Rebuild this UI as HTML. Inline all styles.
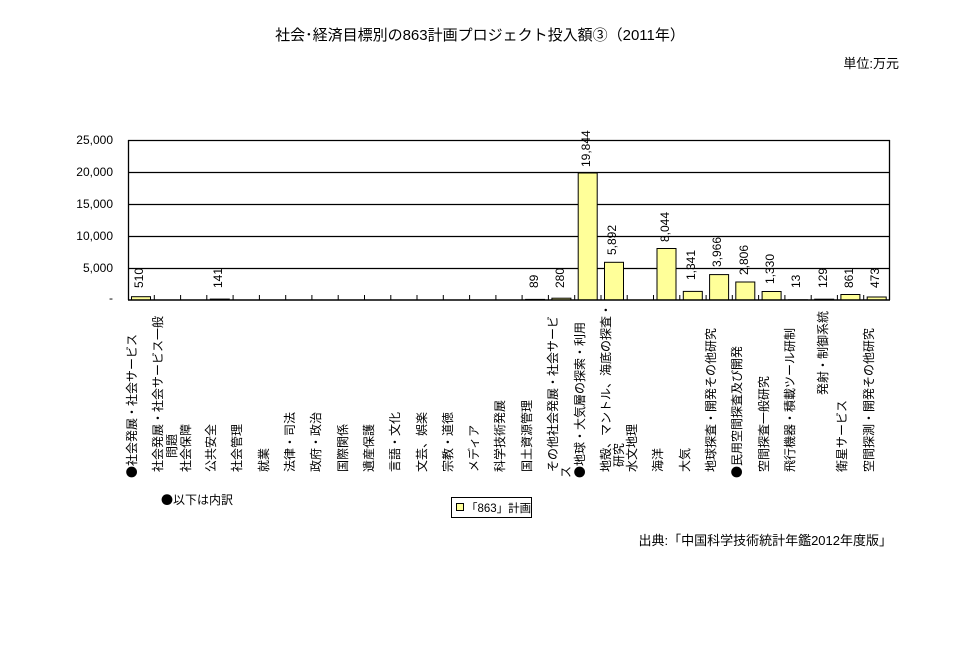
<!DOCTYPE html>
<html><head><meta charset="utf-8"><style>
body{margin:0;background:#fff;}
#c{position:relative;width:960px;height:650px;overflow:hidden;font-family:"Liberation Sans","Noto Sans CJK JP",sans-serif;color:#000;}
.t{position:absolute;white-space:nowrap;}
.r{position:absolute;white-space:nowrap;transform:rotate(-90deg);transform-origin:0 0;font-size:12px;line-height:12px;height:12px;}
.yl{position:absolute;right:847px;font-size:12px;line-height:12px;text-align:right;}
.b{font-family:"Noto Sans CJK JP",sans-serif;}
</style></head><body><div id="c">
<div class="t" style="left:0;width:960px;text-align:center;top:24px;font-size:15px;">社会･経済目標別の863計画プロジェクト投入額③（2011年）</div>
<div class="t" style="right:61px;top:53px;font-size:13px;">単位:万元</div>

<svg style="position:absolute;left:0;top:0" width="960" height="650">
<g stroke="#000" stroke-width="1.3" fill="none">
<line x1="128" y1="140.5" x2="890" y2="140.5"/>
<line x1="128" y1="172.5" x2="890" y2="172.5"/>
<line x1="128" y1="204.5" x2="890" y2="204.5"/>
<line x1="128" y1="236.5" x2="890" y2="236.5"/>
<line x1="128" y1="268.5" x2="890" y2="268.5"/>
<line x1="128.5" y1="140" x2="128.5" y2="300"/>
<line x1="889.5" y1="140" x2="889.5" y2="300"/>
</g>
<g fill="#ffff99" stroke="#000" stroke-width="1">
<rect x="131.5" y="296.7" width="19" height="3.3"/>
<rect x="210.3" y="299.1" width="19" height="0.9"/>
<rect x="525.6" y="299.4" width="19" height="0.6"/>
<rect x="551.9" y="298.2" width="19" height="1.8"/>
<rect x="578.2" y="173.0" width="19" height="127"/>
<rect x="604.5" y="262.3" width="19" height="37.7"/>
<rect x="657.0" y="248.5" width="19" height="51.5"/>
<rect x="683.3" y="291.4" width="19" height="8.6"/>
<rect x="709.6" y="274.6" width="19" height="25.4"/>
<rect x="735.8" y="282.0" width="19" height="18"/>
<rect x="762.1" y="291.5" width="19" height="8.5"/>
<rect x="788.4" y="299.8" width="19" height="0.2"/>
<rect x="814.7" y="299.2" width="19" height="0.8"/>
<rect x="840.9" y="294.5" width="19" height="5.5"/>
<rect x="867.2" y="297.0" width="19" height="3"/>
</g>
<g stroke="#000" stroke-width="1">
<line x1="154.3" y1="295" x2="154.3" y2="300"/><line x1="180.6" y1="295" x2="180.6" y2="300"/>
<line x1="206.8" y1="295" x2="206.8" y2="300"/><line x1="233.1" y1="295" x2="233.1" y2="300"/>
<line x1="259.4" y1="295" x2="259.4" y2="300"/><line x1="285.7" y1="295" x2="285.7" y2="300"/>
<line x1="311.9" y1="295" x2="311.9" y2="300"/><line x1="338.2" y1="295" x2="338.2" y2="300"/>
<line x1="364.5" y1="295" x2="364.5" y2="300"/><line x1="390.8" y1="295" x2="390.8" y2="300"/>
<line x1="417.0" y1="295" x2="417.0" y2="300"/><line x1="443.3" y1="295" x2="443.3" y2="300"/>
<line x1="469.6" y1="295" x2="469.6" y2="300"/><line x1="495.9" y1="295" x2="495.9" y2="300"/>
<line x1="522.1" y1="295" x2="522.1" y2="300"/><line x1="548.4" y1="295" x2="548.4" y2="300"/>
<line x1="574.7" y1="295" x2="574.7" y2="300"/><line x1="601.0" y1="295" x2="601.0" y2="300"/>
<line x1="627.2" y1="295" x2="627.2" y2="300"/><line x1="653.5" y1="295" x2="653.5" y2="300"/>
<line x1="679.8" y1="295" x2="679.8" y2="300"/><line x1="706.1" y1="295" x2="706.1" y2="300"/>
<line x1="732.3" y1="295" x2="732.3" y2="300"/><line x1="758.6" y1="295" x2="758.6" y2="300"/>
<line x1="784.9" y1="295" x2="784.9" y2="300"/><line x1="811.2" y1="295" x2="811.2" y2="300"/>
<line x1="837.4" y1="295" x2="837.4" y2="300"/><line x1="863.7" y1="295" x2="863.7" y2="300"/>
</g>
<line x1="128" y1="300" x2="890" y2="300" stroke="#000" stroke-width="1.5"/>
<rect x="451.5" y="497.5" width="80" height="20" fill="#fff" stroke="#000"/>
<rect x="456.5" y="503.5" width="7" height="7" fill="#ffff99" stroke="#000"/>
</svg>
<div class="t" style="left:466px;top:500px;font-size:11.5px;">「863」計画</div>

<div class="yl" style="top:134px">25,000</div>
<div class="yl" style="top:166px">20,000</div>
<div class="yl" style="top:198px">15,000</div>
<div class="yl" style="top:230px">10,000</div>
<div class="yl" style="top:262px">5,000</div>
<div class="yl" style="top:292px">-</div>

<div class="r" style="left:133px;top:288px">510</div>
<div class="r" style="left:212px;top:288px">141</div>
<div class="r" style="left:528px;top:288px">89</div>
<div class="r" style="left:554px;top:288px">280</div>
<div class="r" style="left:580px;top:167px">19,844</div>
<div class="r" style="left:606px;top:255px">5,892</div>
<div class="r" style="left:659px;top:242px">8,044</div>
<div class="r" style="left:685px;top:280px">1,341</div>
<div class="r" style="left:711px;top:267px">3,966</div>
<div class="r" style="left:738px;top:275px">2,806</div>
<div class="r" style="left:764px;top:284px">1,330</div>
<div class="r" style="left:790px;top:288px">13</div>
<div class="r" style="left:817px;top:288px">129</div>
<div class="r" style="left:843px;top:288px">861</div>
<div class="r" style="left:869px;top:288px">473</div>

<div class="r" style="left:126px;top:478px"><span class="b">●</span>社会発展・社会サービス</div>
<div class="r" style="left:152px;top:472px">社会発展・社会サービス一般</div>
<div class="r" style="left:166px;top:458px">問題</div>
<div class="r" style="left:180px;top:472px">社会保障</div>
<div class="r" style="left:205px;top:472px">公共安全</div>
<div class="r" style="left:231px;top:472px">社会管理</div>
<div class="r" style="left:258px;top:472px">就業</div>
<div class="r" style="left:284px;top:472px">法律・司法</div>
<div class="r" style="left:310px;top:472px">政府・政治</div>
<div class="r" style="left:337px;top:472px">国際関係</div>
<div class="r" style="left:363px;top:472px">遺産保護</div>
<div class="r" style="left:389px;top:472px">言語・文化</div>
<div class="r" style="left:416px;top:472px">文芸、娯楽</div>
<div class="r" style="left:442px;top:472px">宗教・道徳</div>
<div class="r" style="left:468px;top:472px">メディア</div>
<div class="r" style="left:494px;top:472px">科学技術発展</div>
<div class="r" style="left:521px;top:472px">国土資源管理</div>
<div class="r" style="left:547px;top:472px">その他社会発展・社会サービ</div>
<div class="r" style="left:560px;top:478px">ス</div>
<div class="r" style="left:574px;top:478px"><span class="b">●</span>地球・大気層の探索・利用</div>
<div class="r" style="left:600px;top:472px">地殻、マントル、海底の探査・</div>
<div class="r" style="left:613px;top:467px">研究</div>
<div class="r" style="left:626px;top:472px">水文地理</div>
<div class="r" style="left:652px;top:472px">海洋</div>
<div class="r" style="left:679px;top:472px">大気</div>
<div class="r" style="left:705px;top:472px">地球探査・開発その他研究</div>
<div class="r" style="left:731px;top:478px"><span class="b">●</span>民用空間探査及び開発</div>
<div class="r" style="left:758px;top:472px">空間探査一般研究</div>
<div class="r" style="left:784px;top:472px">飛行機器・積載ツール研制</div>
<div class="r" style="left:817px;top:395px">発射・制御系統</div>
<div class="r" style="left:836px;top:472px">衛星サービス</div>
<div class="r" style="left:863px;top:472px">空間探測・開発その他研究</div>

<div class="t" style="left:161px;top:491px;font-size:12px;"><span class="b">●</span>以下は内訳</div>
<div class="t" style="right:68px;top:530px;font-size:13px;">出典:「中国科学技術統計年鑑2012年度版」</div>
</div>
</body></html>
